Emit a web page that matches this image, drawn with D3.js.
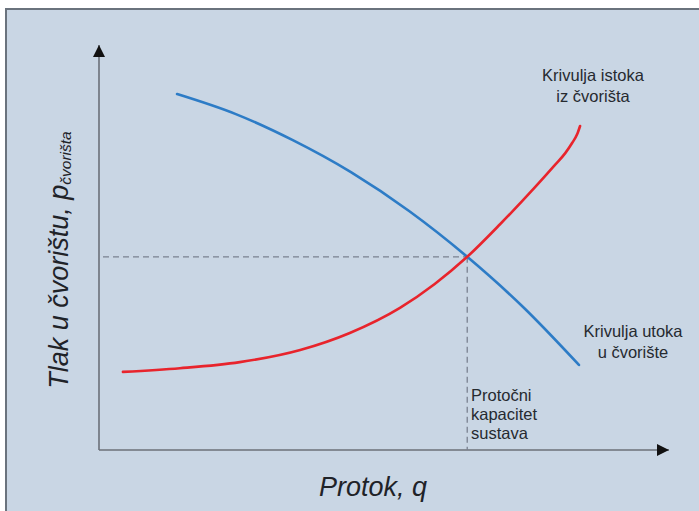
<!DOCTYPE html>
<html>
<head>
<meta charset="utf-8">
<script src="https://cdn.jsdelivr.net/npm/d3@7"></script>
<style>
  body { margin: 0; background: #ffffff; }
  svg { display: block; font-family: "Liberation Sans", Arial, sans-serif; }
</style>
</head>
<body>
<div id="chart"></div>
<script>
// Podaci (q i p u % raspona osi) ocitani sa slike
var istokQ = [4.2, 14.2, 24.7, 35.3, 44.0, 52.8, 58.9, 64.6, 70.4, 76.5, 80.0, 81.8, 83.0, 83.9, 84.4];
var istokP = [19.3, 20.2, 21.7, 24.7, 28.9, 35.1, 41.0, 47.7, 55.8, 64.9, 70.4, 73.3, 75.8, 78.0, 80.0];

var utokQ = [13.7, 23.9, 34.0, 44.2, 54.4, 64.6, 74.4, 84.2];
var utokP = [87.9, 83.0, 76.5, 68.6, 59.0, 47.7, 35.3, 21.0];

// radna tocka (protocni kapacitet)
var radnaQ = 64.6;
var radnaP = 47.7;

var width = 699;
var height = 511;

var svg = d3.select("#chart")
  .append("svg")
  .attr("width", width)
  .attr("height", height);

// pozadina
svg.append("rect")
  .attr("x", 6).attr("y", 9)
  .attr("width", width - 6).attr("height", height - 9)
  .attr("fill", "#c9d6e4");
svg.append("path")
  .attr("d", "M6," + height + "V9H" + width)
  .attr("fill", "none")
  .attr("stroke", "#6a737d")
  .attr("stroke-width", 2);

// skale
var x0 = 99, y0 = 450;
var xScale = d3.scaleLinear().domain([0, 100]).range([x0, 669]);
var yScale = d3.scaleLinear().domain([0, 100]).range([y0, 45]);

// strelice
var defs = svg.append("defs");
defs.append("marker")
  .attr("id", "arrow")
  .attr("viewBox", "0 0 10 10")
  .attr("refX", 10).attr("refY", 5)
  .attr("markerWidth", 12).attr("markerHeight", 12)
  .attr("markerUnits", "userSpaceOnUse")
  .attr("orient", "auto")
  .append("path")
  .attr("d", "M0,0L10,5L0,10Z")
  .attr("fill", "#111");

// osi
svg.append("line")
  .attr("x1", x0).attr("y1", y0)
  .attr("x2", x0).attr("y2", yScale(100))
  .attr("stroke", "#6b7079").attr("stroke-width", 1.6)
  .attr("marker-end", "url(#arrow)");
svg.append("line")
  .attr("x1", x0).attr("y1", y0)
  .attr("x2", xScale(100)).attr("y2", y0)
  .attr("stroke", "#6b7079").attr("stroke-width", 1.6)
  .attr("marker-end", "url(#arrow)");

// isprekidane linije
svg.append("line")
  .attr("x1", x0 + 4).attr("y1", yScale(radnaP))
  .attr("x2", xScale(radnaQ)).attr("y2", yScale(radnaP))
  .attr("stroke", "#7a8190").attr("stroke-width", 1.3)
  .attr("stroke-dasharray", "6,4");
svg.append("line")
  .attr("x1", xScale(radnaQ)).attr("y1", yScale(radnaP))
  .attr("x2", xScale(radnaQ)).attr("y2", y0)
  .attr("stroke", "#7a8190").attr("stroke-width", 1.3)
  .attr("stroke-dasharray", "6,4");

// krivulje
var line = d3.line()
  .x(function(d) { return xScale(d[0]); })
  .y(function(d) { return yScale(d[1]); })
  .curve(d3.curveMonotoneX);

svg.append("path")
  .datum(d3.zip(utokQ, utokP))
  .attr("d", line)
  .attr("fill", "none")
  .attr("stroke", "#2d7cc6")
  .attr("stroke-width", 2.6)
  .attr("stroke-linecap", "round");

svg.append("path")
  .datum(d3.zip(istokQ, istokP))
  .attr("d", line)
  .attr("fill", "none")
  .attr("stroke", "#e8242c")
  .attr("stroke-width", 2.6)
  .attr("stroke-linecap", "round");

// oznake
function label(lines, x, y, anchor, gap) {
  var t = svg.append("text")
    .attr("x", x).attr("y", y)
    .attr("text-anchor", anchor)
    .attr("font-size", 16.5)
    .attr("fill", "#262a30");
  lines.forEach(function(s, i) {
    t.append("tspan").attr("x", x).attr("dy", i === 0 ? 0 : gap).text(s);
  });
}
label(["Krivulja istoka", "iz čvorišta"], 593, 81, "middle", 21);
label(["Krivulja utoka", "u čvorište"], 633, 337, "middle", 21);
label(["Protočni", "kapacitet", "sustava"], 471, 401, "start", 19);

// naslovi osi
svg.append("text")
  .attr("x", 373).attr("y", 496)
  .attr("text-anchor", "middle")
  .attr("font-size", 27)
  .attr("font-style", "italic")
  .attr("fill", "#1f2328")
  .text("Protok, q");

var yl = svg.append("text")
  .attr("transform", "translate(68,260)rotate(-90)")
  .attr("text-anchor", "middle")
  .attr("font-size", 27)
  .attr("font-style", "italic")
  .attr("fill", "#1f2328");
yl.append("tspan").text("Tlak u čvorištu, p");
yl.append("tspan").attr("font-size", 15.5).attr("dy", 3).text("čvorišta");
</script>
</body>
</html>
